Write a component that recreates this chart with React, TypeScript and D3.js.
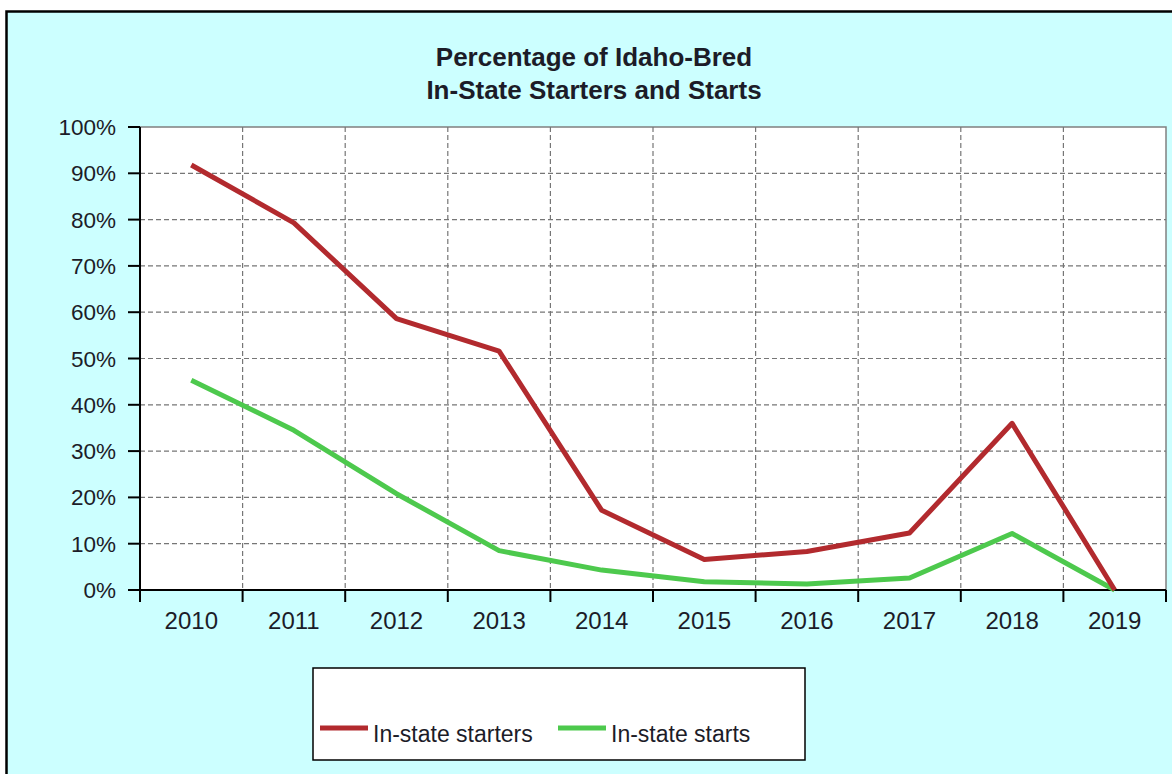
import React, { useEffect, useRef } from 'react';
import * as d3 from 'd3';

const years = ['2010', '2011', '2012', '2013', '2014', '2015', '2016', '2017', '2018', '2019'];
const starters = [91.8, 79.3, 58.6, 51.6, 17.2, 6.6, 8.3, 12.3, 36.0, 0];
const starts = [45.3, 34.5, 20.8, 8.5, 4.3, 1.8, 1.3, 2.6, 12.2, 0];
const yTicks = [0, 10, 20, 30, 40, 50, 60, 70, 80, 90, 100];
const seriesNames = ['In-state starters', 'In-state starts'];
const seriesColors = ['#B22A2E', '#4DC94D'];

const W = 1172;
const H = 774;
const FONT = '"Liberation Sans", Arial, sans-serif';
const INK = '#1c1c28';

const App: React.FC = () => {
  const svgRef = useRef<SVGSVGElement>(null);

  useEffect(() => {
    document.body.style.margin = '0';
    document.body.style.overflow = 'hidden';
    if (!svgRef.current) return;

    const svg = d3.select(svgRef.current);
    svg.selectAll('*').remove();

    const left = 140;
    const right = 1166;
    const top = 127;
    const bottom = 590;

    // outer panel
    svg
      .append('rect')
      .attr('x', 6.5)
      .attr('y', 11.5)
      .attr('width', W + 20)
      .attr('height', H + 20)
      .attr('fill', '#CCFFFF')
      .attr('stroke', '#000')
      .attr('stroke-width', 2.5);

    const x = d3.scaleBand<string>().domain(years).range([left, right]).padding(0);
    const y = d3.scaleLinear().domain([0, 100]).range([bottom, top]);
    const cx = (i: number) => (x(years[i]) as number) + x.bandwidth() / 2;

    // plot area
    svg
      .append('rect')
      .attr('x', left)
      .attr('y', top)
      .attr('width', right - left)
      .attr('height', bottom - top)
      .attr('fill', '#fff')
      .attr('stroke', '#808080')
      .attr('stroke-width', 1.5);

    // grid
    const grid = svg.append('g').attr('stroke', '#767676').attr('stroke-width', 1.2).attr('stroke-dasharray', '5,3');
    yTicks
      .filter((t) => t > 0 && t < 100)
      .forEach((t) => {
        grid.append('line').attr('x1', left).attr('x2', right).attr('y1', y(t)).attr('y2', y(t));
      });
    years.slice(1).forEach((yr) => {
      const xx = x(yr) as number;
      grid.append('line').attr('x1', xx).attr('x2', xx).attr('y1', top).attr('y2', bottom);
    });

    // y axis
    const yAxis = svg.append('g');
    yAxis.append('line').attr('x1', left).attr('x2', left).attr('y1', top).attr('y2', bottom).attr('stroke', '#000').attr('stroke-width', 2);
    yTicks.forEach((t) => {
      yAxis.append('line').attr('x1', left - 12).attr('x2', left).attr('y1', y(t)).attr('y2', y(t)).attr('stroke', '#000').attr('stroke-width', 2);
      yAxis
        .append('text')
        .attr('x', left - 24)
        .attr('y', y(t) + 8)
        .attr('text-anchor', 'end')
        .attr('font-family', FONT)
        .attr('font-size', 22.5)
        .attr('fill', INK)
        .text(`${t}%`);
    });

    // x axis
    const xAxis = svg.append('g');
    xAxis.append('line').attr('x1', left).attr('x2', right).attr('y1', bottom).attr('y2', bottom).attr('stroke', '#000').attr('stroke-width', 2);
    [...years.map((yr) => x(yr) as number), right].forEach((xx) => {
      xAxis.append('line').attr('x1', xx).attr('x2', xx).attr('y1', bottom).attr('y2', bottom + 12).attr('stroke', '#000').attr('stroke-width', 2);
    });
    years.forEach((yr, i) => {
      xAxis
        .append('text')
        .attr('x', cx(i))
        .attr('y', 629)
        .attr('text-anchor', 'middle')
        .attr('font-family', FONT)
        .attr('font-size', 24)
        .attr('fill', INK)
        .text(yr);
    });

    // lines
    const line = d3
      .line<number>()
      .x((_, i) => cx(i))
      .y((d) => y(d));
    [starts, starters].forEach((s, k) => {
      svg
        .append('path')
        .datum(s)
        .attr('fill', 'none')
        .attr('stroke', seriesColors[1 - k])
        .attr('stroke-width', 5)
        .attr('stroke-linejoin', 'round')
        .attr('d', line);
    });

    // title
    const title = svg
      .append('text')
      .attr('text-anchor', 'middle')
      .attr('font-family', FONT)
      .attr('font-size', 26)
      .attr('font-weight', 'bold')
      .attr('fill', INK);
    title.append('tspan').attr('x', 594).attr('y', 66).text('Percentage of Idaho-Bred');
    title.append('tspan').attr('x', 594).attr('y', 99).text('In-State Starters and Starts');

    // legend
    const lg = svg.append('g');
    lg.append('rect')
      .attr('x', 313)
      .attr('y', 668)
      .attr('width', 492)
      .attr('height', 92)
      .attr('fill', '#fff')
      .attr('stroke', '#000')
      .attr('stroke-width', 1.5);
    const legendX = [320, 558];
    seriesNames.forEach((name, k) => {
      lg.append('line')
        .attr('x1', legendX[k])
        .attr('x2', legendX[k] + 48)
        .attr('y1', 728)
        .attr('y2', 728)
        .attr('stroke', seriesColors[k])
        .attr('stroke-width', 5);
      lg.append('text')
        .attr('x', legendX[k] + 53)
        .attr('y', 742)
        .attr('font-family', FONT)
        .attr('font-size', 23)
        .attr('fill', INK)
        .text(name);
    });
  }, []);

  return <svg ref={svgRef} width={W} height={H} style={{ display: 'block' }} />;
};

export default App;
